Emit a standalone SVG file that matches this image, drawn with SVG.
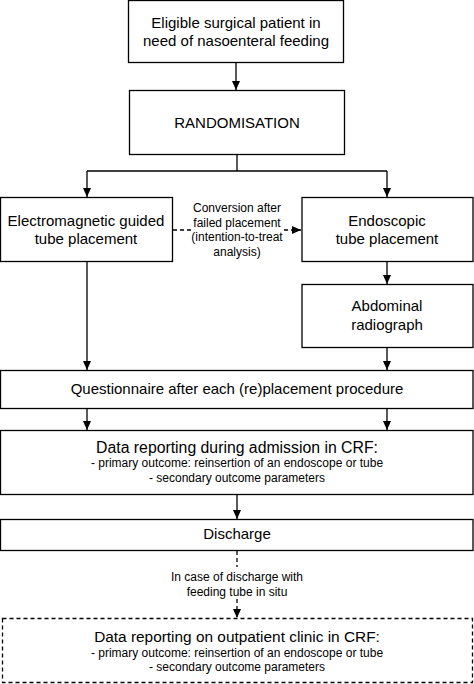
<svg xmlns="http://www.w3.org/2000/svg" width="474" height="684" viewBox="0 0 474 684">
<style>
.b{fill:#fff;stroke:#000;stroke-width:1.3}
.d{fill:#fff;stroke:#000;stroke-width:1.3;stroke-dasharray:4,3}
.t{font-family:"Liberation Sans",Arial,sans-serif;font-size:15px;fill:#000;text-anchor:middle}
.s{font-family:"Liberation Sans",Arial,sans-serif;font-size:12px;fill:#000;text-anchor:middle}
.c{fill:none;stroke:#000;stroke-width:1.3}
.cd{fill:none;stroke:#000;stroke-width:1.3;stroke-dasharray:4,3}
</style>
<defs>
<marker id="a" markerWidth="9" markerHeight="8" refX="9" refY="4" orient="auto" markerUnits="userSpaceOnUse" viewBox="0 0 9 8">
<path d="M0,0 L9,4 L0,8 Z" fill="#000"/>
</marker>
</defs>
<g id="connectors">
<path class="c" d="M236,63 V90" marker-end="url(#a)"/>
<path class="c" d="M237,155 V171 M87,171 H387"/>
<path class="c" d="M87,171 V197" marker-end="url(#a)"/>
<path class="c" d="M387,171 V197" marker-end="url(#a)"/>
<path class="cd" d="M173,230 H192"/>
<path class="cd" d="M284,230 H301" marker-end="url(#a)"/>
<path class="c" d="M87,262 V370" marker-end="url(#a)"/>
<path class="c" d="M387,262 V284" marker-end="url(#a)"/>
<path class="c" d="M387,347 V370" marker-end="url(#a)"/>
<path class="c" d="M87,408 V430" marker-end="url(#a)"/>
<path class="c" d="M387,408 V430" marker-end="url(#a)"/>
<path class="c" d="M237,495 V519" marker-end="url(#a)"/>
<path class="cd" d="M237,551 V567"/>
<path class="cd" d="M237,599 V618" marker-end="url(#a)"/>
<text class="s" x="237" y="212">Conversion after</text>
<text class="s" x="237" y="227">failed placement</text>
<text class="s" x="237" y="241">(intention-to-treat</text>
<text class="s" x="237" y="256">analysis)</text>
<text class="s" x="237" y="581">In case of discharge with</text>
<text class="s" x="237" y="596">feeding tube in situ</text>
</g>
<g id="eligible">
<rect class="b" x="128.5" y="0.5" width="215" height="62"/>
<text class="t" x="236" y="28">Eligible surgical patient in</text>
<text class="t" x="236" y="46">need of nasoenteral feeding</text>
</g>
<g id="randomisation">
<rect class="b" x="129.5" y="90.5" width="215" height="64"/>
<text class="t" x="237" y="128">RANDOMISATION</text>
</g>
<g id="electromagnetic">
<rect class="b" x="0.5" y="197.5" width="172" height="64"/>
<text class="t" x="86" y="226">Electromagnetic guided</text>
<text class="t" x="86" y="244">tube placement</text>
</g>
<g id="endoscopic">
<rect class="b" x="302" y="197.5" width="171" height="64"/>
<text class="t" x="387" y="226">Endoscopic</text>
<text class="t" x="387" y="244">tube placement</text>
</g>
<g id="radiograph">
<rect class="b" x="302" y="284.5" width="171" height="63"/>
<text class="t" x="387" y="311">Abdominal</text>
<text class="t" x="387" y="330">radiograph</text>
</g>
<g id="questionnaire">
<rect class="b" x="0.5" y="370.5" width="472.5" height="38"/>
<text class="t" x="237" y="394">Questionnaire after each (re)placement procedure</text>
</g>
<g id="data-admission">
<rect class="b" x="0.5" y="430.5" width="472.5" height="64"/>
<text class="t" x="237" y="453" style="font-size:15.8px">Data reporting during admission in CRF:</text>
<text class="s" x="237" y="467">- primary outcome: reinsertion of an endoscope or tube</text>
<text class="s" x="237" y="482">- secondary outcome parameters</text>
</g>
<g id="discharge">
<rect class="b" x="0.5" y="519.5" width="472.5" height="31"/>
<text class="t" x="237" y="539">Discharge</text>
</g>
<g id="data-outpatient">
<rect class="d" x="2.5" y="618.5" width="470" height="64"/>
<text class="t" x="237" y="642" style="font-size:15.4px">Data reporting on outpatient clinic in CRF:</text>
<text class="s" x="237" y="657">- primary outcome: reinsertion of an endoscope or tube</text>
<text class="s" x="237" y="671">- secondary outcome parameters</text>
</g>
</svg>
